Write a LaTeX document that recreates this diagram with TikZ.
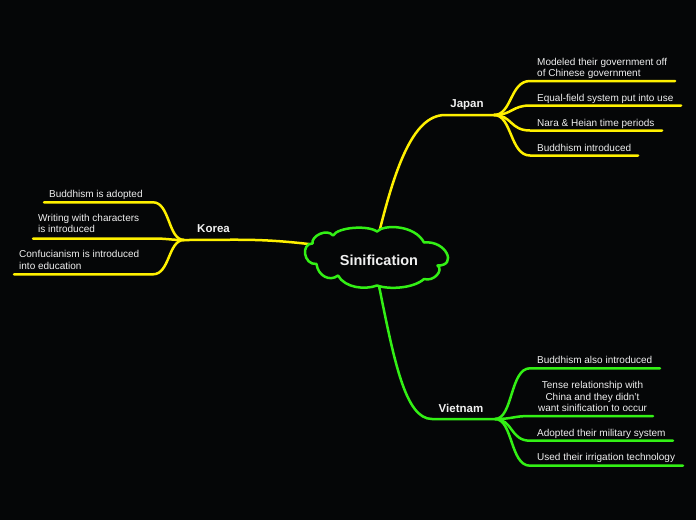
\documentclass[tikz,border=0pt]{standalone}
\usepackage{fontspec}
\setmainfont{Liberation Sans}
\definecolor{bg}{HTML}{050607}
\definecolor{yel}{HTML}{FFF000}
\definecolor{grn}{HTML}{33F015}
\definecolor{txt}{HTML}{F0F0F0}
\begin{document}
\begin{tikzpicture}[x=1pt,y=-1pt,
  ybranch/.style={draw=yel, line width=2.5pt, line cap=round},
  gbranch/.style={draw=grn, line width=2.5pt, line cap=round},
  cloudline/.style={draw=grn, fill=bg, line width=2.5pt, line join=round},
  leaf/.style={text=txt, font=\fontsize{10}{11.2}\selectfont, inner sep=0pt, text depth=0pt, anchor=south west, align=left},
  topic/.style={text=txt, font=\fontsize{11.5}{13}\selectfont\bfseries, inner sep=0pt, text depth=0pt, anchor=south}]
\fill[bg] (0,0) rectangle (696,520);
\useasboundingbox (0,0) rectangle (696,520);

% hubs
\coordinate (jh) at (494,115);
\coordinate (kh) at (184,240);
\coordinate (vh) at (495,419);

% connectors from the centre (their ends are covered by the cloud)
\coordinate (cj) at (378,237);
\coordinate (ck) at (317,245);
\coordinate (cv) at (378,281);
\draw[ybranch] (cj) .. controls (394,172) and (412,115) .. (445,115) -- (jh);
\draw[ybranch] (ck) .. controls (260,238) and (240,240) .. (kh);
\draw[gbranch] (cv) .. controls (394,360) and (405,419) .. (432,419) -- (vh);

% centre cloud
\draw[cloudline] (312.5,243.5)
  .. controls (311,236) and (327,228) .. (333,235.5)
  .. controls (338,227) and (368,225) .. (377,231.5)
  .. controls (384,224) and (415,225) .. (424,242.5)
  .. controls (446,240) and (458,266) .. (437.5,265.5)
  .. controls (444,270) and (434,282) .. (424,279)
  .. controls (414,288) and (390,290) .. (377,285.5)
  .. controls (365,290) and (345,288) .. (338,275.5)
  .. controls (330,282) and (318,276) .. (316.5,264)
  .. controls (303,265) and (301,243) .. cycle;
\node[text=txt, font=\fontsize{14.5}{16}\selectfont\bfseries, inner sep=0pt, anchor=base] (c) at (379,265) {Sinification};

% topics
\node[topic] (japan) at (467,107.5) {Japan};
\node[topic] (korea) at (213.5,232.8) {Korea};
\node[topic] (vietnam) at (461,412.8) {Vietnam};

% Japan leaves
\coordinate (j1) at (530,81);   \coordinate (j1e) at (675,81);
\coordinate (j2) at (530,105.5);\coordinate (j2e) at (681,105.5);
\coordinate (j3) at (530,130.5);\coordinate (j3e) at (662,130.5);
\coordinate (j4) at (530,155.5);\coordinate (j4e) at (638,155.5);
\draw[ybranch] (jh) .. controls (512,115) and (510,81) .. (j1) -- (j1e);
\draw[ybranch] (jh) .. controls (512,115) and (512,105.5) .. (j2) -- (j2e);
\draw[ybranch] (jh) .. controls (512,115) and (510,130.5) .. (j3) -- (j3e);
\draw[ybranch] (jh) .. controls (512,115) and (510,155.5) .. (j4) -- (j4e);
\node[leaf] (jt1) at (537,76.5) {Modeled their government off\\of Chinese government};
\node[leaf] (jt2) at (537,101.5) {Equal-field system put into use};
\node[leaf] (jt3) at (537,126.5) {Nara \& Heian time periods};
\node[leaf] (jt4) at (537,151.5) {Buddhism introduced};

% Korea leaves
\coordinate (k1) at (153,202.3); \coordinate (k1e) at (44,202.3);
\coordinate (k2) at (153,238.5); \coordinate (k2e) at (33,238.5);
\coordinate (k3) at (153,274.3); \coordinate (k3e) at (14,274.3);
\draw[ybranch] (kh) .. controls (168,240) and (170,202.3) .. (k1) -- (k1e);
\draw[ybranch] (kh) .. controls (170,240) and (168,238.5) .. (k2) -- (k2e);
\draw[ybranch] (kh) .. controls (168,240) and (170,274.3) .. (k3) -- (k3e);
\node[leaf] (kt1) at (49,197.7) {Buddhism is adopted};
\node[leaf] (kt2) at (38,233) {Writing with characters\\is introduced};
\node[leaf] (kt3) at (19,269.3) {Confucianism is introduced\\into education};

% Vietnam leaves
\coordinate (v1) at (530,368.3); \coordinate (v1e) at (660,368.3);
\coordinate (v2) at (530,416);   \coordinate (v2e) at (653,416);
\coordinate (v3) at (530,440.7); \coordinate (v3e) at (673,440.7);
\coordinate (v4) at (530,465.7); \coordinate (v4e) at (683,465.7);
\draw[gbranch] (vh) .. controls (513,419) and (510,368.3) .. (v1) -- (v1e);
\draw[gbranch] (vh) .. controls (513,419) and (513,416) .. (v2) -- (v2e);
\draw[gbranch] (vh) .. controls (513,419) and (510,440.7) .. (v3) -- (v3e);
\draw[gbranch] (vh) .. controls (513,419) and (510,465.7) .. (v4) -- (v4e);
\node[leaf] (vt1) at (537,363.5) {Buddhism also introduced};
\node[leaf, anchor=south, align=center] (vt2) at (592.5,411.5) {Tense relationship with\\China and they didn't\\want sinification to occur};
\node[leaf] (vt3) at (537,436.5) {Adopted their military system};
\node[leaf] (vt4) at (537,460.8) {Used their irrigation technology};
\end{tikzpicture}
\end{document}
